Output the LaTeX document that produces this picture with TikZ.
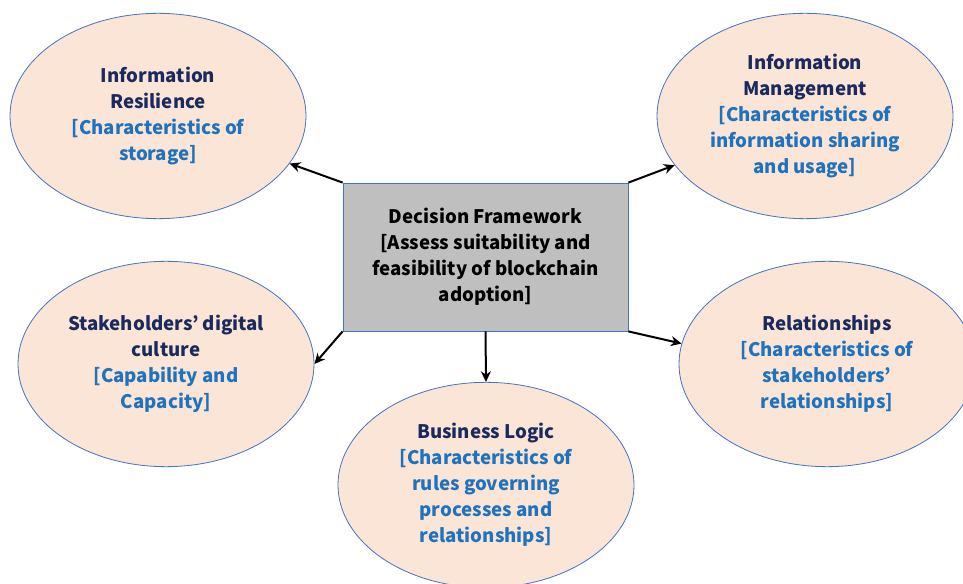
\documentclass[tikz,border=0pt]{standalone}
\usepackage{fontspec}
\setmainfont{Noto Sans CJK JP}
\usepackage{xcolor}
\usetikzlibrary{shapes.geometric,arrows.meta}
\definecolor{bubblefill}{HTML}{FBE5D6}
\definecolor{edge}{HTML}{4472C4}
\definecolor{boxfill}{HTML}{BFBFBF}
\definecolor{navy}{HTML}{1A2A5E}
\definecolor{sky}{HTML}{1F72BD}
\newcommand{\bluetxt}[1]{\textcolor{sky}{#1}}
\tikzset{
  bubble/.style={ellipse, draw=edge, fill=bubblefill, line width=0.6pt,
    minimum width=222pt, minimum height=154pt, inner sep=0pt,
    align=center, text=navy, font=\bfseries\fontsize{14}{19.5}\selectfont},
  frame/.style={rectangle, draw=edge, fill=boxfill, line width=0.6pt,
    minimum width=213.75pt, minimum height=111pt, inner sep=0pt,
    align=center, text=black, font=\bfseries\fontsize{14}{19.5}\selectfont},
  arr/.style={draw=black, line width=1.5pt, -{Stealth[length=8pt,width=7.5pt]}}
}

\begin{document}
\begin{tikzpicture}[x=0.75pt, y=-0.75pt]
  \useasboundingbox (0,0) rectangle (963,584);

  \node[frame] (box) at (485.5,257)
    {Decision Framework\\{}[Assess suitability and\\feasibility of blockchain\\adoption]};

  \node[bubble] (ir) at (158,116)
    {Information\\Resilience\\\bluetxt{[Characteristics of}\\\bluetxt{storage]}};
  \node[bubble] (im) at (805,116)
    {Information\\Management\\\bluetxt{[Characteristics of}\\\bluetxt{information sharing}\\\bluetxt{and usage]}};
  \node[bubble] (sd) at (166,364)
    {Stakeholders’ digital\\culture\\\bluetxt{[Capability and}\\\bluetxt{Capacity]}};
  \node[bubble] (rel) at (827,364)
    {Relationships\\\bluetxt{[Characteristics of}\\\bluetxt{stakeholders’}\\\bluetxt{relationships]}};
  \node[bubble] (bl) at (486,485)
    {Business Logic\\\bluetxt{[Characteristics of}\\\bluetxt{rules governing}\\\bluetxt{processes and}\\\bluetxt{relationships]}};

  % arrows out of the framework box
  \draw[arr] (box.north west) -- (ir);
  \draw[arr] (box.north east) -- (im);
  \draw[arr] (box.south west) -- (sd.east);
  \draw[arr] (box.south) -- (bl.north);
  \draw[arr] (box.south east) -- (rel.172);
\end{tikzpicture}
\end{document}
